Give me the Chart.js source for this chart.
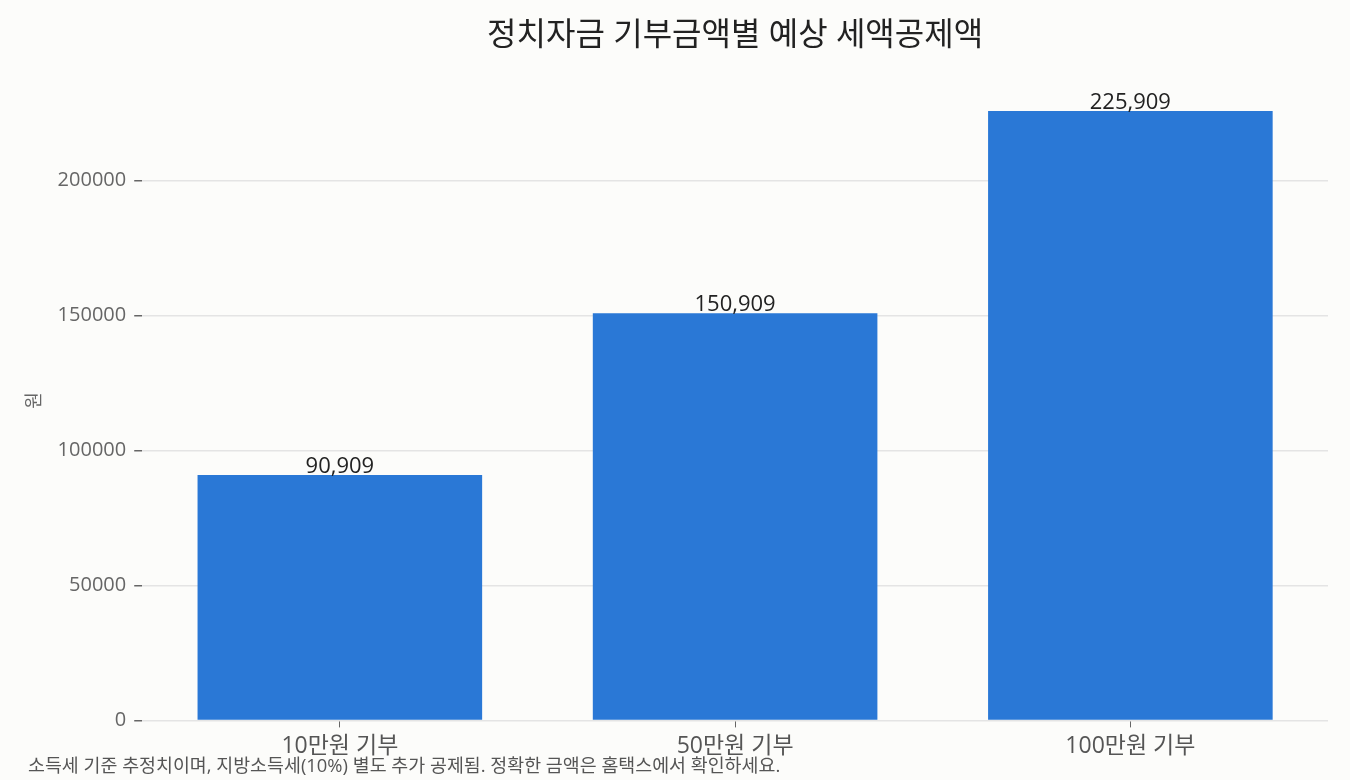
<!DOCTYPE html>
<html>
<head>
<meta charset="utf-8">
<script src="https://cdn.jsdelivr.net/npm/chart.js@4.4.0/dist/chart.umd.min.js"></script>
<style>
  html, body { margin: 0; padding: 0; background: #fcfcfa; }
  #wrap { width: 1350px; height: 780px; position: relative; }
</style>
</head>
<body>
<div id="wrap"><canvas id="taxChart"></canvas></div>
<script>
// 기부금액별 예상 세액공제 (원)
const categories = ['10만원 기부', '50만원 기부', '100만원 기부'];
const creditValues = [90909, 150909, 225909];
const yTicks = [0, 50000, 100000, 150000, 200000];

const titleText = '정치자금 기부금액별 예상 세액공제액';
const footnoteText = '소득세 기준 추정치이며, 지방소득세(10%) 별도 추가 공제됨. 정확한 금액은 홈택스에서 확인하세요.';
const fontFamily = '"Open Sans", "Noto Sans CJK KR", sans-serif';

function formatNumber(v) {
    return v.toString().replace(/(\d)(?=(\d{3})+(?!\d))/g, '$1,');
}

// 막대 위 값 표시
const valueLabels = {
    id: 'valueLabels',
    afterDatasetsDraw(chart) {
        const ctx = chart.ctx;
        const meta = chart.getDatasetMeta(0);
        ctx.save();
        ctx.font = '22px ' + fontFamily;
        ctx.fillStyle = '#222';
        ctx.textAlign = 'center';
        ctx.textBaseline = 'bottom';
        meta.data.forEach(function(bar, i) {
            ctx.fillText(formatNumber(creditValues[i]), bar.x, bar.y + 3);
        });
        ctx.restore();
    }
};

// 하단 주석
const footnote = {
    id: 'footnote',
    afterDraw(chart) {
        const ctx = chart.ctx;
        ctx.save();
        ctx.font = '18.4px ' + fontFamily;
        ctx.fillStyle = '#555';
        ctx.textAlign = 'left';
        ctx.textBaseline = 'middle';
        ctx.fillText(footnoteText, 28, 767);
        ctx.restore();
    }
};

const bgPlugin = {
    id: 'bg',
    beforeDraw(chart) {
        const ctx = chart.ctx;
        ctx.save();
        ctx.fillStyle = '#fcfcfa';
        ctx.fillRect(0, 0, chart.width, chart.height);
        ctx.restore();
    }
};

const ctx = document.getElementById('taxChart').getContext('2d');
new Chart(ctx, {
    type: 'bar',
    data: {
        labels: categories,
        datasets: [{
            data: creditValues,
            backgroundColor: '#2a78d6',
            borderWidth: 0,
            barPercentage: 0.72,
            categoryPercentage: 1.0
        }]
    },
    options: {
        responsive: true,
        maintainAspectRatio: false,
        animation: false,
        layout: { padding: { left: 24, right: 22, top: 0, bottom: 15 } },
        plugins: {
            legend: { display: false },
            tooltip: { enabled: false },
            title: {
                display: true,
                fullSize: false,
                text: titleText,
                color: '#222',
                font: { family: fontFamily, size: 32, weight: 'normal' },
                padding: { top: 17, bottom: 25 }
            }
        },
        scales: {
            x: {
                grid: {
                    offset: false,
                    drawOnChartArea: false,
                    drawTicks: true,
                    tickLength: 7,
                    tickColor: '#666'
                },
                border: { display: false },
                ticks: {
                    color: '#555',
                    padding: 5,
                    font: { family: fontFamily, size: 23 }
                }
            },
            y: {
                min: 0,
                max: 237204,
                afterBuildTicks: function(scale) {
                    scale.ticks = yTicks.map(function(v) { return { value: v }; });
                },
                grid: {
                    color: '#e4e4e4',
                    lineWidth: 1.5,
                    drawTicks: true,
                    tickLength: 8,
                    tickColor: '#666'
                },
                border: { display: false },
                ticks: {
                    color: '#666',
                    padding: 8,
                    font: { family: fontFamily, size: 20 },
                    callback: function(value) { return String(value); }
                },
                title: {
                    display: true,
                    text: '원',
                    color: '#666',
                    padding: { top: 0, bottom: 4 },
                    font: { family: fontFamily, size: 18 }
                }
            }
        }
    },
    plugins: [bgPlugin, valueLabels, footnote]
});
</script>
</body>
</html>
